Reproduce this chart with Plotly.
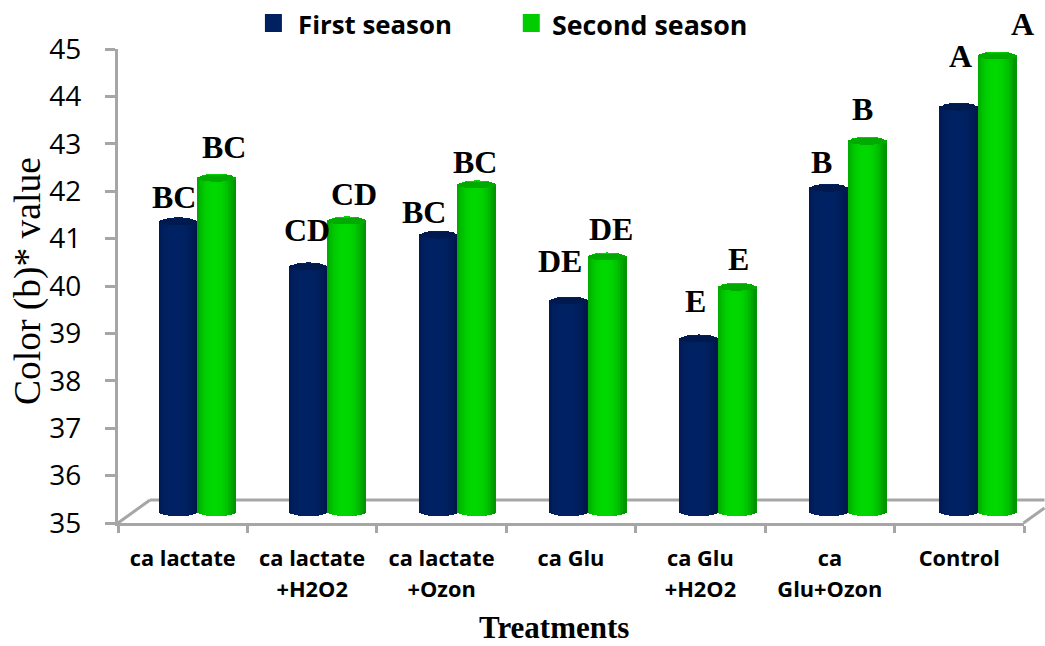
import numpy as np
import plotly.graph_objects as go

categories = ["ca lactate", "ca lactate<br>+H2O2", "ca lactate<br>+Ozon", "ca Glu",
              "ca Glu<br>+H2O2", "ca<br>Glu+Ozon", "Control"]
first_season = [41.08, 40.13, 40.80, 39.41, 38.61, 41.79, 43.50]
second_season = [42.00, 41.10, 41.86, 40.34, 39.70, 42.78, 44.58]
first_letters = ["BC", "CD", "BC", "DE", "E", "B", "A"]
second_letters = ["BC", "CD", "BC", "DE", "E", "B", "A"]
y_ticks = list(range(35, 46))

W, H = 1045, 646
L, R, T, B = 118, 1024.5, 49, 523
CAT_PX = (R - L) / 7
UNIT_PX = (B - T) / 10
LIFT = 12 / UNIT_PX          # the floor of the 3D box sits above the axis line
CAP = 5.4 / UNIT_PX          # half height of an end ellipse
CAP_IN = 3.4 / UNIT_PX
HALF = 19.2 / CAT_PX         # half bar width
PAIR = 15 / CAT_PX           # pair shift to the right
SPREAD = 0.67 / CAT_PX       # perspective growth per category
STRIP = 1.5 / CAT_PX
FIRST_DX = [-4, -1, -14, -8, -3, -7, 2]
FIRST_DY = [26, 38, 24, 41, 39, 27, 52]
SECOND_DX = [8, 8, -1, 4.5, 2, -4, 26]
SECOND_DY = [32, 28, 24, 29, 29, 33, 33]


def mix(a, b, f):
    return "rgb(%d,%d,%d)" % tuple(round(a[i] + (b[i] - a[i]) * f) for i in range(3))


def cylinder(name, values, side, edge, mid, cap, rim):
    n = int(2 * HALF / STRIP)
    ts = (np.arange(n) + 0.5) / n * 2 - 1
    xs, offs, bases, ys, cols = [], [], [], [], []
    for i, (cat, v) in enumerate(zip(categories, values)):
        centre = PAIR + SPREAD * i + side * HALF
        top = v + LIFT
        for t in ts:
            d = float(np.sqrt(max(1 - t * t, 0)))
            off = centre + t * HALF - STRIP / 2
            shade = 1 - abs(t + 0.1) ** 2.4
            # body, from the lower ellipse edge to the upper one
            xs.append(cat); offs.append(off)
            bases.append(35 + LIFT - CAP * d); ys.append(top - 35 - LIFT + CAP * d)
            cols.append(mix(edge, mid, max(shade, 0)))
            # end cap: rim
            xs.append(cat); offs.append(off)
            bases.append(top - CAP * d); ys.append(2 * CAP * d)
            cols.append(mix(edge, rim, max(shade, 0)))
            # end cap: inner face
            xs.append(cat); offs.append(off)
            bases.append(top - CAP_IN * d + 0.02); ys.append(2 * CAP_IN * d)
            cols.append(cap)
    return go.Bar(name=name, x=xs, y=ys, base=bases, offset=offs, width=STRIP * 1.15,
                  marker=dict(color=cols, line=dict(width=0)), showlegend=False,
                  hoverinfo="skip")


NAVY_E, NAVY_M = (0, 24, 78), (0, 34, 100)
GREEN_E, GREEN_M = (0, 150, 0), (0, 216, 0)
fig = go.Figure()
fig.add_trace(cylinder("First season", first_season, -1, NAVY_E, NAVY_M, "rgb(0,26,80)", (0, 34, 96)))
fig.add_trace(cylinder("Second season", second_season, 1, GREEN_E, GREEN_M, "rgb(0,170,0)", (0, 214, 0)))


def px(x):
    return (x - L) / (R - L)


def py(y):
    return (B - y) / (B - T)


GREY = "#a6a6a6"
shapes = [
    dict(type="line", xref="paper", yref="paper", x0=px(118), y0=py(523), x1=px(150), y1=py(500),
         line=dict(color=GREY, width=3), layer="below"),
    dict(type="line", xref="paper", yref="paper", x0=px(150), y0=py(500), x1=px(1045), y1=py(500),
         line=dict(color=GREY, width=3), layer="below"),
    dict(type="line", xref="paper", yref="paper", x0=px(1024), y0=py(523), x1=px(1045), y1=py(508),
         line=dict(color=GREY, width=3), layer="below"),
    dict(type="rect", xref="paper", yref="paper", x0=px(265), x1=px(282), y0=py(32), y1=py(14),
         fillcolor="#002060", line=dict(width=0)),
    dict(type="rect", xref="paper", yref="paper", x0=px(523), x1=px(540), y0=py(32), y1=py(14),
         fillcolor="#00cc00", line=dict(width=0)),
]

SERIF = "Liberation Serif"
SANS = "Open Sans"
ann = []
for i, cat in enumerate(categories):
    for vals, lets, dxs, dys, side in ((first_season, first_letters, FIRST_DX, FIRST_DY, -1),
                                       (second_season, second_letters, SECOND_DX, SECOND_DY, 1)):
        ann.append(dict(x=cat, y=vals[i] + LIFT, text=lets[i], showarrow=False,
                        xshift=(PAIR + SPREAD * i + side * HALF) * CAT_PX + dxs[i] - 0.8, yshift=dys[i],
                        xanchor="center", yanchor="middle",
                        font=dict(family=SERIF, size=32, color="#000000", weight="bold")))
for text, x, y, font in (
    ("First season", 296, 24, dict(family=SANS, size=25.8, color="#000", weight="bold")),
    ("Second season", 550, 24, dict(family=SANS, size=26.8, color="#000", weight="bold")),
):
    ann.append(dict(xref="paper", yref="paper", x=px(x), y=py(y), text=text, showarrow=False,
                    xanchor="left", yanchor="middle", font=font))
ann.append(dict(xref="paper", yref="paper", x=px(554), y=py(627), text="Treatments", showarrow=False,
                xanchor="center", yanchor="middle",
                font=dict(family=SERIF, size=31, color="#000", weight="bold")))
ann.append(dict(xref="paper", yref="paper", x=px(28), y=py(281), text="Color (b)* value", showarrow=False,
                textangle=-90, xanchor="center", yanchor="middle",
                font=dict(family=SERIF, size=37.5, color="#000")))

fig.update_layout(
    width=W, height=H, autosize=False, margin=dict(l=L, r=W - R, t=T, b=H - B),
    paper_bgcolor="#fff", plot_bgcolor="rgba(0,0,0,0)", barmode="overlay", bargap=0,
    showlegend=False, shapes=shapes, annotations=ann,
    xaxis=dict(type="category", categoryorder="array", categoryarray=categories, tickvals=categories,
               ticktext=['<span style="font-size:21.8px">%s</span>' % c.replace("<br>", '</span><br><span style="font-size:21.8px">')
                         for c in categories],
               range=[-0.5, 6.5], tickson="boundaries", showgrid=False, zeroline=False,
               showline=True, linecolor=GREY, linewidth=3, ticks="outside", ticklen=7, tickwidth=2.5,
               tickcolor=GREY, tickfont=dict(family=SANS, size=24, color="#000", weight="bold"),
               ticklabelstandoff=11),
    yaxis=dict(range=[35, 45], tickvals=y_ticks, showgrid=False, zeroline=False, showline=True,
               linecolor=GREY, linewidth=3, ticks="outside", ticklen=10, tickwidth=2.5, tickcolor=GREY,
               tickfont=dict(family=SANS, size=28, color="#000"), ticklabelstandoff=18),
)
fig.write_html("out.html", config=dict(displayModeBar=False),
               post_script="document.body.style.margin='0';document.documentElement.style.overflow='hidden';")
